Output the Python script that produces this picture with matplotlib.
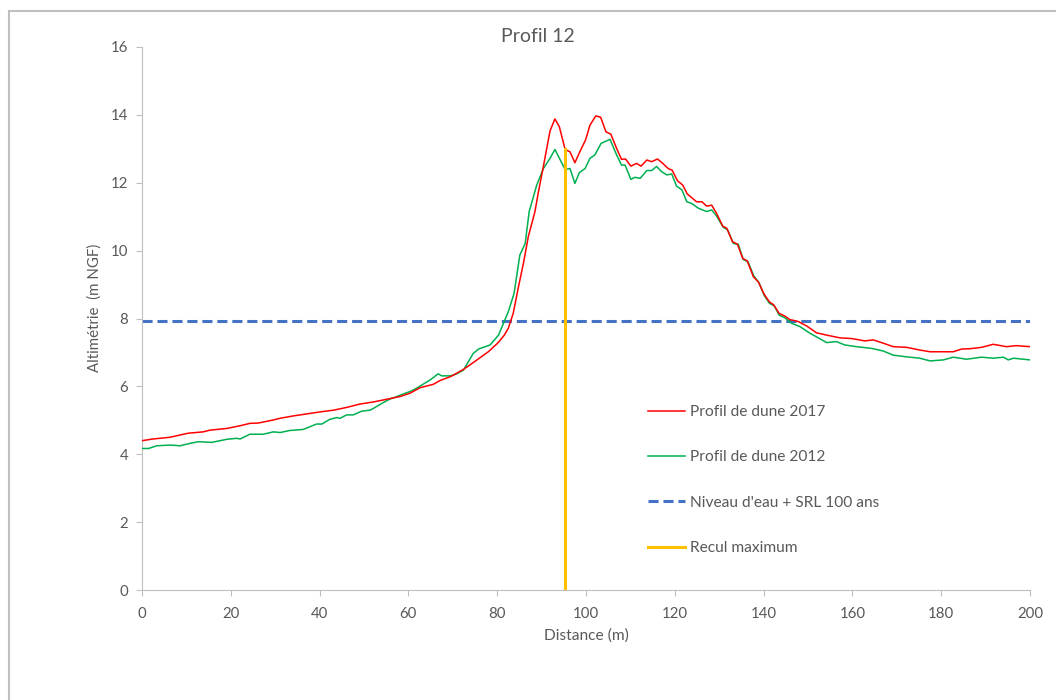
import matplotlib
matplotlib.use("Agg")
import matplotlib.pyplot as plt
from matplotlib.patches import Rectangle

plt.rcParams['font.family'] = ['Lato', 'DejaVu Sans']

# ---- data ----
x_2017 = [0.0, 2.5, 6.3, 10.4, 13.8, 15.3, 19.1, 22.1, 24.3, 26.2, 29.6, 31.1, 34.1, 37.2,
          40.2, 43.2, 46.1, 49.1, 52.1, 55.1, 58.1, 60.4, 62.6, 65.6, 67.1, 69.7, 72.4,
          74.6, 78.0, 79.5, 80.3, 81.6, 82.5, 83.6, 84.8, 85.9, 87.0, 88.5, 89.3, 90.4,
          91.9, 93.0, 94.0, 95.3, 96.4, 97.5, 98.6, 99.9, 100.9, 102.2, 103.3, 104.5,
          105.6, 106.9, 108.0, 108.9, 110.1, 111.4, 112.4, 113.7, 114.8, 116.1, 117.3,
          118.5, 119.4, 120.6, 121.8, 122.8, 124.9, 126.1, 127.2, 128.3, 129.4, 130.8,
          131.7, 133.0, 134.1, 135.3, 136.3, 137.7, 138.8, 140.1, 141.3, 142.3, 143.5,
          144.8, 145.9, 147.8, 149.7, 151.9, 154.2, 157.2, 159.8, 162.8, 164.7, 167.0,
          169.2, 172.2, 175.2, 177.5, 180.5, 182.7, 184.6, 186.5, 189.1, 191.7, 194.7,
          196.9, 200.0]
y_2017 = [4.40, 4.45, 4.50, 4.62, 4.66, 4.71, 4.76, 4.84, 4.91, 4.92, 5.01, 5.06, 5.13, 5.19,
          5.25, 5.30, 5.38, 5.48, 5.54, 5.62, 5.70, 5.80, 5.96, 6.06, 6.17, 6.30, 6.50,
          6.70, 7.02, 7.20, 7.30, 7.51, 7.71, 8.15, 8.94, 9.62, 10.41, 11.15, 11.74, 12.48,
          13.53, 13.88, 13.65, 12.98, 12.91, 12.59, 12.91, 13.26, 13.70, 13.97, 13.93,
          13.50, 13.43, 13.01, 12.69, 12.70, 12.49, 12.57, 12.49, 12.67, 12.62, 12.70,
          12.57, 12.42, 12.37, 12.06, 11.93, 11.67, 11.44, 11.44, 11.31, 11.34, 11.10,
          10.72, 10.66, 10.26, 10.19, 9.77, 9.70, 9.23, 9.08, 8.72, 8.49, 8.40, 8.15,
          8.07, 7.97, 7.91, 7.78, 7.58, 7.51, 7.43, 7.41, 7.34, 7.37, 7.27, 7.17, 7.15,
          7.07, 7.02, 7.02, 7.02, 7.10, 7.11, 7.15, 7.24, 7.17, 7.20, 7.17]

x_2012 = [0.0, 1.5, 3.3, 6.3, 8.6, 10.8, 12.7, 15.7, 19.1, 21.3, 22.1, 24.3, 27.3, 29.6,
          31.1, 33.3, 36.3, 37.8, 39.3, 40.5, 42.3, 43.9, 44.6, 46.1, 47.6, 49.5, 51.4,
          52.1, 54.3, 55.9, 57.4, 58.9, 60.4, 61.9, 63.4, 64.9, 66.7, 67.5, 69.4, 70.9,
          72.4, 74.6, 75.8, 78.4, 80.3, 82.5, 83.8, 85.1, 86.3, 87.2, 88.9, 90.4, 91.9,
          93.0, 95.3, 96.4, 97.5, 98.5, 99.8, 100.9, 102.0, 103.4, 105.4, 106.9, 108.0,
          108.8, 110.1, 111.0, 112.2, 113.7, 114.8, 115.9, 117.0, 118.2, 119.3, 120.4,
          121.6, 122.7, 123.8, 125.3, 127.2, 128.3, 129.4, 130.9, 131.9, 133.2, 134.3,
          135.4, 136.5, 137.8, 139.0, 140.1, 141.3, 142.4, 143.5, 144.8, 146.3, 148.2,
          150.5, 151.9, 154.2, 156.4, 158.3, 160.9, 164.3, 167.0, 169.2, 172.2, 175.2,
          177.5, 180.5, 182.7, 185.7, 189.1, 191.7, 194.0, 195.1, 196.3, 200.0]
y_2012 = [4.17, 4.17, 4.25, 4.27, 4.25, 4.32, 4.37, 4.35, 4.44, 4.47, 4.45, 4.59, 4.59, 4.66,
          4.64, 4.70, 4.73, 4.81, 4.89, 4.89, 5.03, 5.08, 5.06, 5.16, 5.16, 5.27, 5.30,
          5.35, 5.52, 5.63, 5.70, 5.78, 5.85, 5.95, 6.07, 6.19, 6.37, 6.31, 6.31, 6.37,
          6.48, 6.97, 7.10, 7.22, 7.51, 8.20, 8.74, 9.87, 10.21, 11.15, 11.93, 12.42, 12.72,
          12.98, 12.39, 12.42, 11.98, 12.30, 12.42, 12.72, 12.82, 13.16, 13.28, 12.82,
          12.52, 12.52, 12.10, 12.16, 12.13, 12.36, 12.36, 12.48, 12.33, 12.23, 12.26,
          11.90, 11.79, 11.44, 11.39, 11.25, 11.15, 11.20, 11.02, 10.69, 10.61, 10.21,
          10.19, 9.74, 9.67, 9.25, 9.05, 8.69, 8.45, 8.37, 8.10, 8.02, 7.86, 7.76, 7.56,
          7.46, 7.29, 7.32, 7.22, 7.17, 7.12, 7.04, 6.92, 6.87, 6.83, 6.75, 6.78, 6.86,
          6.80, 6.86, 6.83, 6.86, 6.78, 6.83, 6.78]

srl_x = [0, 200]
srl_y = [7.93, 7.93]
recul_x = [95.3, 95.3]
recul_y = [0, 12.98]

title = "Profil 12"
xlabel = "Distance (m)"
ylabel = "Altimétrie  (m NGF)"
labels = ["Profil de dune 2017", "Profil de dune 2012",
          "Niveau d'eau + SRL 100 ans", "Recul maximum"]
xticks = list(range(0, 201, 20))
yticks = list(range(0, 17, 2))

# ---- figure ----
W, H = 1056, 700
fig = plt.figure(figsize=(W / 100, H / 100), dpi=100)
ax = fig.add_axes([142 / W, 1 - 590 / H, (1030 - 142) / W, (590 - 47) / H])

text_c = "#595959"
grid_c = "#BFBFBF"

l1, = ax.plot(x_2017, y_2017, color="#FF0000", lw=1.1, label=labels[0], zorder=4)
l2, = ax.plot(x_2012, y_2012, color="#00B050", lw=1.1, label=labels[1], zorder=3)
l3, = ax.plot(srl_x, srl_y, color="#4472C4", lw=2.2, linestyle=(0, (3.3, 1.6)),
              label=labels[2], zorder=2)
l4, = ax.plot(recul_x, recul_y, color="#FFC000", lw=2.2, label=labels[3], zorder=5)

ax.set_xlim(0, 200)
ax.set_ylim(0, 16)
ax.set_xticks(xticks)
ax.set_yticks(yticks)
for s in ["top", "right"]:
    ax.spines[s].set_visible(False)
for s in ["left", "bottom"]:
    ax.spines[s].set_color(grid_c)
    ax.spines[s].set_linewidth(0.8)
ax.tick_params(axis="both", direction="out", length=4, width=0.8, color=grid_c,
               labelcolor=text_c, labelsize=10.8)
ax.tick_params(axis="y", pad=6)
ax.tick_params(axis="x", pad=8)

ax.set_xlabel(xlabel, color=text_c, fontsize=11.2)
ax.xaxis.set_label_coords((586 - 142) / 888, -(636 - 590) / 543)
ax.xaxis.label.set_va("center")
ax.set_ylabel(ylabel, color=text_c, fontsize=10.8)
ax.yaxis.set_label_coords((95 - 142) / 888, (590 - 308) / 543)
ax.yaxis.label.set_va("center")

fig.text(538 / W, 1 - 36 / H, title, ha="center", va="center", color=text_c, fontsize=14)

fig.legend(handles=[l1, l2, l3, l4], loc="upper left",
           bbox_to_anchor=(648 / W, 1 - 405 / H), frameon=False,
           borderpad=0, borderaxespad=0, handlelength=2.4, handletextpad=0.3,
           labelspacing=2.02, prop={"size": 11.2}, labelcolor=text_c)

# chart border
fig.patches.append(Rectangle((8.5 / W, -0.02), 1.1, 1 - 11 / H + 0.02,
                             transform=fig.transFigure, fill=False,
                             edgecolor="#BFBFBF", linewidth=1.5))

fig.savefig("out.png", dpi=100)
